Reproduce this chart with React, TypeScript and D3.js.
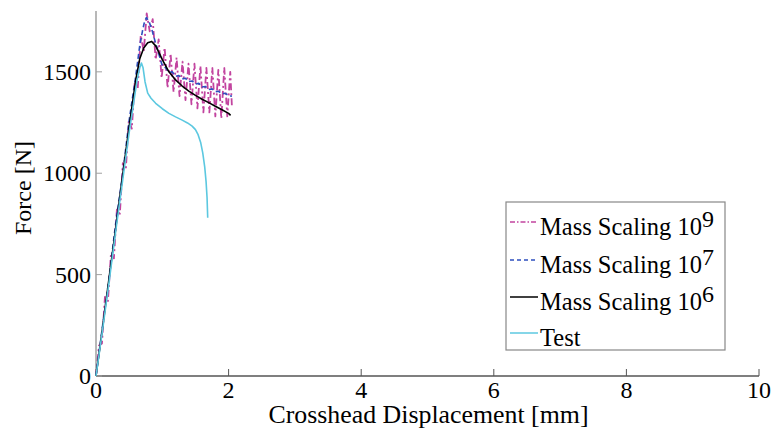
import React from "react";
import * as d3 from "d3";

const xTicks = [0, 2, 4, 6, 8, 10];
const yTicks = [0, 500, 1000, 1500];

const testX = [0, 0.1, 0.2, 0.3, 0.4, 0.5, 0.56, 0.62, 0.66, 0.685, 0.71, 0.74, 0.78, 0.83, 0.9, 1.0, 1.1, 1.2, 1.3, 1.38, 1.45, 1.5, 1.54, 1.58, 1.61, 1.64, 1.66, 1.675, 1.685];
const testY = [0, 230, 470, 720, 960, 1200, 1330, 1460, 1520, 1543, 1520, 1450, 1395, 1370, 1345, 1318, 1295, 1278, 1262, 1248, 1232, 1215, 1190, 1150, 1100, 1030, 960, 880, 780];

const ms6X = [0, 0.1, 0.2, 0.3, 0.4, 0.5, 0.6, 0.66, 0.72, 0.78, 0.84, 0.9, 0.95, 1.0, 1.1, 1.2, 1.3, 1.4, 1.5, 1.6, 1.7, 1.8, 1.9, 2.0, 2.03];
const ms6Y = [0, 240, 490, 735, 985, 1230, 1460, 1565, 1618, 1643, 1650, 1628, 1595, 1560, 1500, 1460, 1430, 1405, 1384, 1365, 1348, 1330, 1313, 1295, 1285];

const ms7X = [0, 0.1, 0.2, 0.3, 0.4, 0.5, 0.6, 0.66, 0.7, 0.73, 0.76, 0.8, 0.85, 0.9, 0.95, 1.0, 1.05, 1.1, 1.15, 1.2, 1.25, 1.3, 1.35, 1.4, 1.45, 1.5, 1.55, 1.6, 1.65, 1.7, 1.75, 1.8, 1.85, 1.9, 1.95, 2.0, 2.05];
const ms7Y = [0, 250, 490, 760, 990, 1260, 1480, 1630, 1700, 1745, 1768, 1748, 1700, 1640, 1585, 1530, 1520, 1498, 1500, 1478, 1482, 1465, 1468, 1452, 1455, 1440, 1443, 1425, 1428, 1413, 1416, 1402, 1404, 1392, 1394, 1383, 1380];

const ms9X = [0, 0.045, 0.09, 0.135, 0.18, 0.225, 0.27, 0.315, 0.36, 0.405, 0.45, 0.495, 0.54, 0.585, 0.63, 0.675, 0.72, 0.765, 0.81, 0.855, 0.9, 0.945, 0.99, 1.035, 1.08, 1.125, 1.17, 1.215, 1.26, 1.305, 1.35, 1.395, 1.44, 1.485, 1.53, 1.575, 1.62, 1.665, 1.71, 1.755, 1.8, 1.845, 1.89, 1.935, 1.98, 2.025, 2.05];
const ms9Y = [0, 150, 160, 390, 370, 600, 580, 820, 800, 1050, 1020, 1260, 1220, 1450, 1420, 1680, 1600, 1788, 1700, 1760, 1560, 1660, 1470, 1620, 1420, 1590, 1400, 1570, 1380, 1550, 1360, 1540, 1340, 1540, 1320, 1530, 1300, 1520, 1300, 1520, 1280, 1510, 1270, 1520, 1280, 1500, 1330];

const legendLabels = ["Mass Scaling 10", "Mass Scaling 10", "Mass Scaling 10", "Test"];
const legendExps = ["9", "7", "6", ""];

const FONT = "Liberation Serif";

export default function App() {
  const x = d3.scaleLinear().domain([0, 10]).range([96, 759]);
  const y = d3.scaleLinear().domain([0, 1800]).range([376, 11]);
  const line = d3.line<[number, number]>().x((d) => x(d[0])).y((d) => y(d[1]));
  const zip = (a: number[], b: number[]) => a.map((v, i) => [v, b[i]] as [number, number]);

  const series = [
    { d: zip(ms9X, ms9Y), color: "#c2449f", dash: "7,3,2,3", w: 1.8 },
    { d: zip(ms7X, ms7Y), color: "#2e4fbf", dash: "5,3", w: 1.6 },
    { d: zip(ms6X, ms6Y), color: "#000000", dash: "", w: 1.6 },
    { d: zip(testX, testY), color: "#5cc8e0", dash: "", w: 1.6 },
  ];

  const legRows = [222, 260, 297, 333];
  const ts = { fontFamily: FONT };

  return (
    <svg width={776} height={430} style={{ position: "absolute", left: 0, top: 0, background: "#fff", fontFamily: FONT }}>
      <rect x={0} y={0} width={776} height={430} fill="#fff" />
      {/* axes */}
      <line x1={x(0)} x2={x(0)} y1={y(1800)} y2={y(0)} stroke="#a0a0a0" strokeWidth={1.5} />
      <line x1={x(0)} x2={x(10)} y1={y(0)} y2={y(0)} stroke="#555" strokeWidth={1.5} />
      {xTicks.map((t) => (
        <g key={"xt" + t}>
          <line x1={x(t)} x2={x(t)} y1={y(0)} y2={y(0) - 7} stroke="#555" strokeWidth={1} />
          <text x={x(t)} y={398} fontSize={24} textAnchor="middle" fill="#000" style={ts}>{t}</text>
        </g>
      ))}
      {yTicks.map((t) => (
        <g key={"yt" + t}>
          <line x1={x(0)} x2={x(0) + 6} y1={y(t)} y2={y(t)} stroke="#a0a0a0" strokeWidth={1} />
          <text x={91} y={y(t) + 8} fontSize={24} textAnchor="end" fill="#000" style={ts}>{t}</text>
        </g>
      ))}
      {/* series */}
      {series.map((s, i) => (
        <path key={i} d={line(s.d) || ""} fill="none" stroke={s.color} strokeWidth={s.w} strokeDasharray={s.dash || undefined} strokeLinejoin="round" />
      ))}
      {/* axis titles */}
      <text x={428.5} y={423} fontSize={24.5} textAnchor="middle" textLength={320} lengthAdjust="spacingAndGlyphs" fill="#000" style={ts}>Crosshead Displacement [mm]</text>
      <text transform={`translate(31,188) rotate(-90)`} fontSize={24} textAnchor="middle" fill="#000" style={ts}>Force [N]</text>
      {/* legend */}
      <rect x={506} y={202} width={219} height={148} fill="#fff" stroke="#888" strokeWidth={1.2} />
      {series.map((s, i) => (
        <g key={"lg" + i}>
          <line x1={510} x2={538} y1={legRows[i]} y2={legRows[i]} stroke={s.color} strokeWidth={1.5} strokeDasharray={s.dash ? (i === 0 ? "5,2,1.5,2" : "4,3") : undefined} />
          <text x={540} y={legRows[i] + 13} fontSize={24.5} fill="#000" style={ts}>
            {legendLabels[i]}
            {legendExps[i] && (
              <tspan dy={-8} fontSize={24}>{legendExps[i]}</tspan>
            )}
          </text>
        </g>
      ))}
    </svg>
  );
}
